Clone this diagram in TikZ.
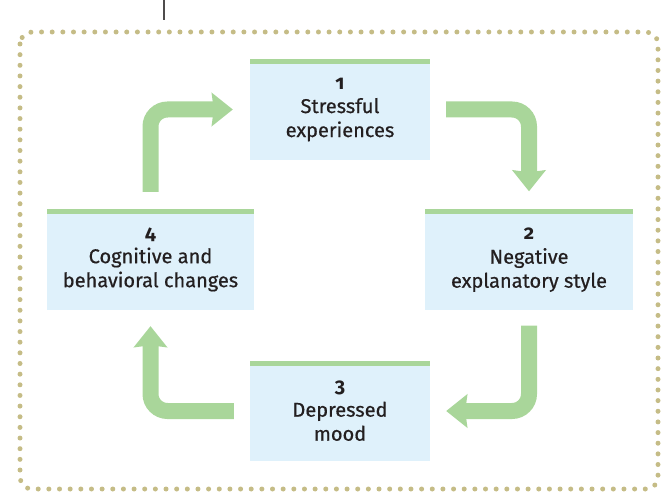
\documentclass[tikz,border=0pt]{standalone}
\usepackage{fontspec}
\setmainfont{Fira Sans}[Numbers=OldStyle, UprightFeatures={FakeBold=0.6}]
\usepackage{tikz}
\usetikzlibrary{arrows.meta}
\definecolor{flowgreen}{HTML}{A9D69A}
\definecolor{boxblue}{HTML}{DFF1FB}
\definecolor{dotkhaki}{HTML}{C5BC86}
\definecolor{inkdark}{HTML}{231F20}
\tikzset{
  cbox/.style={
    rectangle, fill=boxblue, inner sep=0pt,
    minimum height=101pt, align=center, text=inkdark,
    font=\fontsize{20}{24}\selectfont,
    path picture={\fill[flowgreen] (path picture bounding box.north west)
      rectangle ([yshift=-5pt]path picture bounding box.north east);}
  },
  flow/.style={
    -{Stealth[length=21pt, width=33pt, inset=2pt]},
    line width=16pt, flowgreen, rounded corners=17pt
  },
  frame/.style={
    dotkhaki, line width=5pt, line cap=round,
    dash pattern=on 0pt off 10.65pt, rounded corners=12pt
  },
}
\begin{document}
\begin{tikzpicture}[x=1pt, y=-1pt]
  \useasboundingbox (0,0) rectangle (665,492);
  \draw[frame] (20,32) rectangle (658,489);
  \draw[inkdark!80, line width=2pt] (164,0) -- (164,20);
  \node[cbox, minimum width=180pt] (b1) at (340,109.5)
    {\textbf{1}\\Stressful\\experiences};
  \node[cbox, minimum width=208pt] (b2) at (529,260)
    {\textbf{2}\\Negative\\explanatory style};
  \node[cbox, minimum width=180pt, minimum height=100pt] (b3) at (340,411)
    {\textbf{3}\\Depressed\\mood};
  \node[cbox, minimum width=207pt] (b4) at (150.5,259.5)
    {\textbf{4}\\Cognitive and\\behavioral changes};
  \draw[flow] ([xshift=16pt]b1.east) -| ([yshift=18pt]b2.north);
  \draw[flow] ([yshift=-15pt]b2.south) |- ([xshift=16pt]b3.east);
  \draw[flow] ([xshift=-16pt]b3.west) -| ([yshift=-16pt]b4.south);
  \draw[flow] ([yshift=17pt]b4.north) |- ([xshift=-17pt]b1.west);
\end{tikzpicture}
\end{document}
